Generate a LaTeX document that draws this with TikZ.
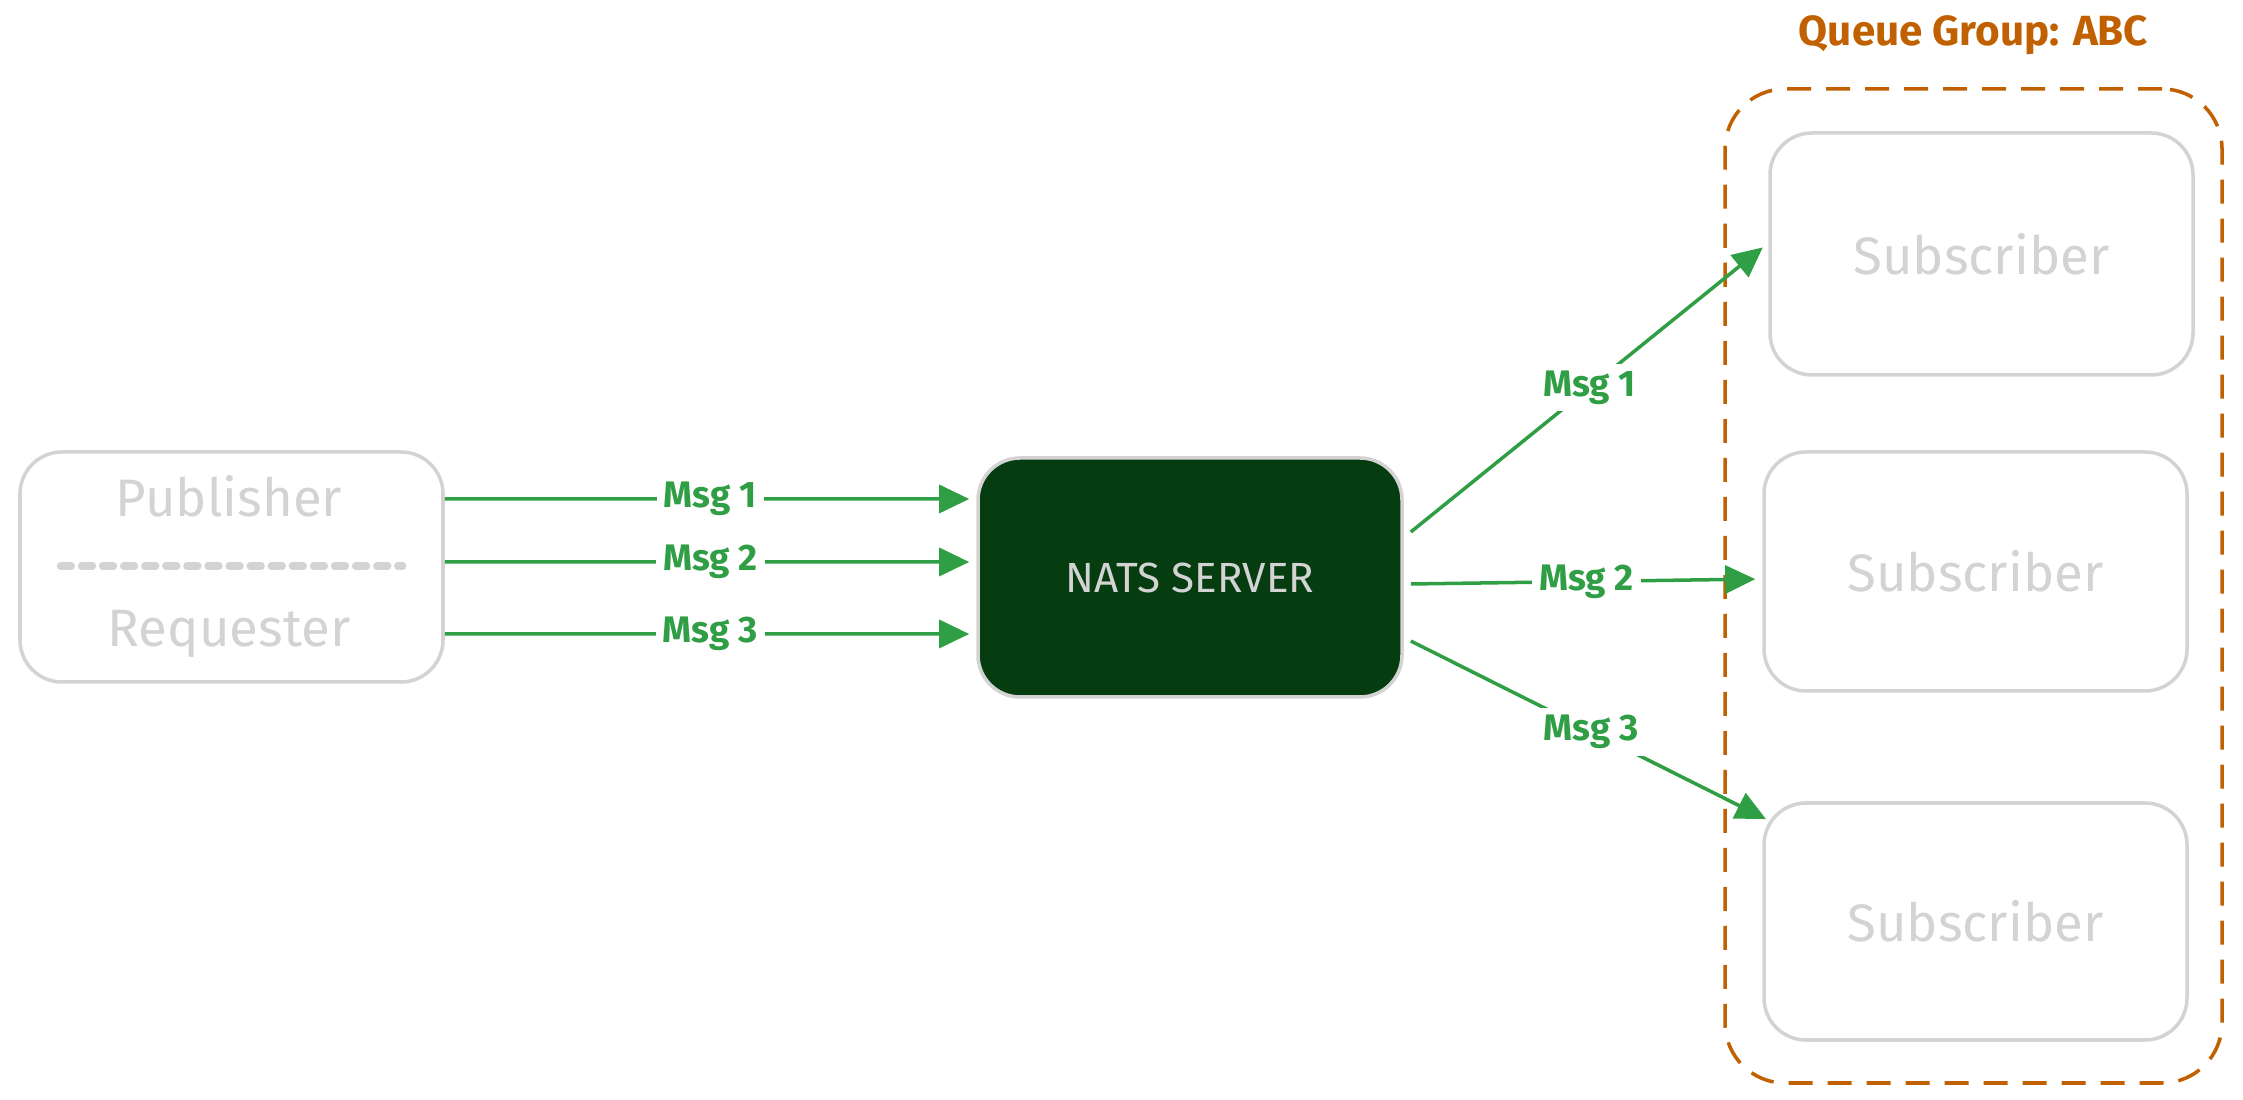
\documentclass[tikz,border=0pt]{standalone}
\usepackage{fontspec}
\setmainfont{Fira Sans}
\usepackage{xcolor}
\usetikzlibrary{calc}
\usetikzlibrary{positioning}
\usetikzlibrary{arrows.meta}
\definecolor{boxgray}{HTML}{D3D3D3}
\definecolor{msggreen}{HTML}{2F9E44}
\definecolor{natsgreen}{HTML}{053C10}
\definecolor{qorange}{HTML}{C06000}
\tikzset{
strokew/.style={line width=1pt},
graybox/.style={draw=boxgray, strokew, rounded corners=0.42cm, minimum width=4.23cm, minimum height=2.4cm, text=boxgray, font=\fontsize{15}{18}\selectfont},
msgarrow/.style={draw=msggreen, strokew, -{Triangle[length=0.3cm, width=0.28cm]}, shorten >=2pt},
msglabel/.style={fill=white, text=msggreen, inner sep=2pt, font=\fontsize{10.5}{13}\selectfont\bfseries},
}
\begin{document}
\begin{tikzpicture}
\useasboundingbox (0,0) rectangle (22.43,11);

\node[graybox, minimum height=2.3cm] (pub) at (2.315,5.33) {};
\node[text=boxgray, font=\fontsize{15}{18}\selectfont] (pubtxt) at (2.29,6.04) {Publisher};
\node[text=boxgray, font=\fontsize{15}{18}\selectfont] (reqtxt) at (2.29,4.66) {Requester};
\draw[boxgray, line width=2pt, line cap=round, dash pattern=on 3.2pt off 2.8pt] ([xshift=0.42cm]pub.west |- 0,5.34) -- ([xshift=-0.42cm]pub.east |- 0,5.34);

\node[draw=boxgray, strokew, fill=natsgreen, rounded corners=0.42cm, minimum width=4.24cm, minimum height=2.39cm, text=boxgray, font=\fontsize{12}{14}\selectfont] (nats) at (11.90,5.225) {NATS SERVER};

\node[draw=qorange, strokew, dash pattern=on 0.24cm off 0.15cm, rounded corners=0.6cm, minimum width=4.97cm, minimum height=9.94cm] (grp) at (19.735,5.14) {};
\node[text=qorange, font=\fontsize{12}{15}\selectfont\bfseries, above=0.2cm of grp.north] (grptxt) {Queue Group: ABC};

\node[graybox, minimum height=2.42cm] (sub1) at (19.815,8.46) {Subscriber};
\node[graybox, minimum height=2.39cm] (sub2) at (19.755,5.285) {Subscriber};
\node[graybox, minimum height=2.37cm] (sub3) at (19.755,1.785) {Subscriber};

% publisher to server
\draw[msgarrow] ([yshift=0.68cm]pub.east) -- node[msglabel] {Msg 1} ([yshift=0.785cm]nats.west);
\draw[msgarrow] ([yshift=0.05cm]pub.east) -- node[msglabel] {Msg 2} ([yshift=0.155cm]nats.west);
\draw[msgarrow] ([yshift=-0.67cm]pub.east) -- node[msglabel] {Msg 3} ([yshift=-0.565cm]nats.west);

% server to queue group
\draw[msgarrow] ([xshift=0.07cm, yshift=0.455cm]nats.east) -- node[msglabel] {Msg 1} ([yshift=0.11cm]sub1.west);
\draw[msgarrow] ([xshift=0.07cm, yshift=-0.065cm]nats.east) -- node[msglabel] {Msg 2} ([yshift=-0.075cm]sub2.west);
\draw[msgarrow] ([xshift=0.07cm, yshift=-0.635cm]nats.east) -- node[msglabel] {Msg 3} ([xshift=0.1cm, yshift=-0.21cm]sub3.north west);
\end{tikzpicture}
\end{document}
